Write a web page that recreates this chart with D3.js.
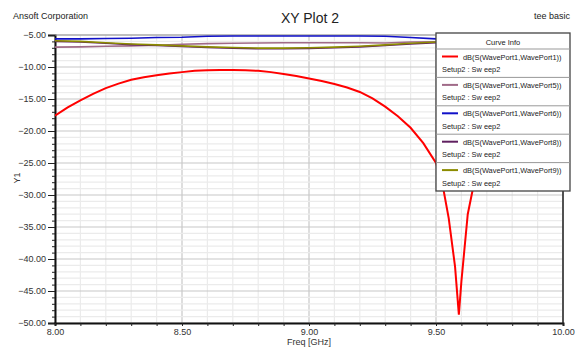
<!DOCTYPE html>
<html><head><meta charset="utf-8">
<script src="https://cdn.jsdelivr.net/npm/d3@7/dist/d3.min.js"></script>
<style>body{margin:0;background:#fff}svg{display:block;font-family:"Liberation Sans",Arial,sans-serif}</style>
</head><body><svg id="c" width="577" height="348"></svg>
<script>
// Data
const freqS11 = [8.00,8.05,8.10,8.15,8.20,8.25,8.30,8.35,8.40,8.45,8.50,8.55,8.60,8.65,8.70,8.75,8.80,8.85,8.90,8.95,9.00,9.05,9.10,9.15,9.20,9.25,9.30,9.35,9.40,9.45,9.50,9.525,9.55,9.575,9.59,9.60,9.625,9.65,9.675,9.70,9.75,9.80,9.85,9.90,9.95,10.00];
const s11 = [-17.6,-16.3,-15.2,-14.2,-13.3,-12.6,-12.0,-11.6,-11.3,-11.0,-10.8,-10.6,-10.5,-10.45,-10.45,-10.5,-10.6,-10.8,-11.1,-11.4,-11.8,-12.2,-12.65,-13.2,-13.9,-14.9,-16.2,-17.7,-19.5,-21.9,-25.0,-28.2,-33.6,-41.2,-48.7,-43.5,-33.0,-28.1,-25.0,-22.5,-19.5,-17.5,-16.0,-15.0,-14.2,-13.5];
const freqTop = [8.0,8.1,8.2,8.3,8.4,8.5,8.6,8.7,8.8,8.9,9.0,9.1,9.2,9.3,9.4,9.5,9.6,9.7,9.8,9.9,10.0];
const s15 = [-6.9,-6.85,-6.75,-6.7,-6.6,-6.45,-6.35,-6.3,-6.25,-6.2,-6.2,-6.2,-6.2,-6.25,-6.1,-6.05,-6.0,-6.0,-6.0,-6.0,-6.0];
const s16 = [-5.6,-5.6,-5.55,-5.5,-5.4,-5.35,-5.2,-5.15,-5.15,-5.15,-5.15,-5.15,-5.15,-5.2,-5.4,-5.6,-5.6,-5.6,-5.6,-5.6,-5.6];
const s18 = [-6.0,-6.1,-6.3,-6.5,-6.65,-6.8,-6.95,-7.05,-7.15,-7.15,-7.1,-7.0,-6.85,-6.65,-6.4,-6.2,-6.1,-6.0,-6.0,-5.95,-5.95];
const s19 = [-5.9,-6.0,-6.2,-6.4,-6.55,-6.7,-6.85,-6.95,-7.05,-7.05,-7.0,-6.9,-6.75,-6.55,-6.3,-6.1,-6.0,-5.9,-5.9,-5.85,-5.85];
const seriesNames = ["dB(S(WavePort1,WavePort1))","dB(S(WavePort1,WavePort5))","dB(S(WavePort1,WavePort6))","dB(S(WavePort1,WavePort8))","dB(S(WavePort1,WavePort9))"];
const seriesColors = ["#ff0000","#a06a88","#1010c8","#602060","#8c8c00"];
const sweepLabel = "Setup2 : Sw eep2";
const xTicks = [8.0,8.5,9.0,9.5,10.0];
const yTicks = [-5,-10,-15,-20,-25,-30,-35,-40,-45,-50];

const svg = d3.select("#c");
const L=55,R=563,T=35,B=323;
const x = d3.scaleLinear().domain([8,10]).range([L,R]);
const y = d3.scaleLinear().domain([-50,-5]).range([B,T]);

// grid
const g = svg.append("g");
d3.range(8,10.0001,0.1).forEach(v=>{
  const major = Math.abs(v*2-Math.round(v*2))<1e-6;
  g.append("line").attr("x1",x(v)).attr("x2",x(v)).attr("y1",T).attr("y2",B)
   .attr("stroke",major?"#c8c8c8":"#ebebeb").attr("stroke-width",1.2);
});
d3.range(-50,-4.999,1).forEach(v=>{
  const major = v%5===0;
  g.append("line").attr("x1",L).attr("x2",R).attr("y1",y(v)).attr("y2",y(v))
   .attr("stroke",major?"#c8c8c8":"#ebebeb").attr("stroke-width",1.2);
});

// axes
const yAxis = d3.axisLeft(y).tickValues(yTicks).tickFormat(d3.format(".2f")).tickSize(7).tickPadding(2);
const ya = svg.append("g").attr("transform",`translate(${L},0)`).call(yAxis);
const yMinor = d3.axisLeft(y).tickValues(d3.range(-50,-4.999,1)).tickFormat("").tickSize(3);
svg.append("g").attr("transform",`translate(${L},0)`).call(yMinor).select(".domain").remove();
const xAxis = d3.axisBottom(x).tickValues(xTicks).tickFormat(d3.format(".2f")).tickSize(3).tickPadding(3);
const xa = svg.append("g").attr("transform",`translate(0,${B})`).call(xAxis);
const xMinor = d3.axisBottom(x).tickValues(d3.range(8,10.0001,0.1)).tickFormat("").tickSize(3);
svg.append("g").attr("transform",`translate(0,${B})`).call(xMinor).select(".domain").remove();
svg.selectAll(".tick text").attr("font-size",9).attr("fill","#333").attr("font-family","Liberation Sans, Arial, sans-serif");
svg.selectAll(".tick line").attr("stroke","#222");
ya.select(".domain").attr("stroke","#111").attr("stroke-width",2);
xa.select(".domain").attr("stroke","#111").attr("stroke-width",2);
// top & right border
svg.append("line").attr("x1",L).attr("x2",R).attr("y1",T).attr("y2",T).attr("stroke","#999").attr("stroke-width",1);
svg.append("line").attr("x1",R).attr("x2",R).attr("y1",T).attr("y2",B+1).attr("stroke","#222").attr("stroke-width",1.5);

// curves
const line = d3.line().x(d=>x(d[0])).y(d=>y(d[1]));
const clip = svg.append("clipPath").attr("id","pc").append("rect").attr("x",L).attr("y",T).attr("width",R-L).attr("height",B-T);
const cg = svg.append("g").attr("clip-path","url(#pc)");
const tops = [[s15,1],[s18,3],[s19,4],[s16,2]];
tops.forEach(([vals,i])=>{
  cg.append("path").datum(freqTop.map((f,k)=>[f,vals[k]])).attr("d",line)
    .attr("fill","none").attr("stroke",seriesColors[i]).attr("stroke-width",1.6);
});
cg.append("path").datum(freqS11.map((f,k)=>[f,s11[k]])).attr("d",line)
  .attr("fill","none").attr("stroke",seriesColors[0]).attr("stroke-width",2);

// texts
svg.append("text").attr("x",310).attr("y",23).attr("text-anchor","middle").attr("font-size",14).attr("fill","#222").text("XY Plot 2");
svg.append("text").attr("x",13).attr("y",19).attr("font-size",9).attr("fill","#222").text("Ansoft Corporation");
svg.append("text").attr("x",570).attr("y",19).attr("text-anchor","end").attr("font-size",9).attr("fill","#222").text("tee basic");
svg.append("text").attr("x",309).attr("y",345).attr("text-anchor","middle").attr("font-size",9).attr("fill","#333").text("Freq [GHz]");
svg.append("text").attr("transform","translate(20,178) rotate(-90)").attr("text-anchor","middle").attr("font-size",9).attr("fill","#333").text("Y1");

// legend
const lx=436, ly=33, lw=134, lh=158, hh=16, eh=(lh-hh)/5;
const lg = svg.append("g");
lg.append("rect").attr("x",lx).attr("y",ly).attr("width",lw).attr("height",lh).attr("fill","#fff").attr("stroke","#444").attr("stroke-width",1.3);
lg.append("text").attr("x",lx+lw/2).attr("y",ly+11.5).attr("text-anchor","middle").attr("font-size",7.5).attr("fill","#222").text("Curve Info");
seriesNames.forEach((n,i)=>{
  const ey = ly+hh+i*eh;
  lg.append("line").attr("x1",lx).attr("x2",lx+lw).attr("y1",ey).attr("y2",ey).attr("stroke","#999").attr("stroke-width",1);
  lg.append("line").attr("x1",lx+6).attr("x2",lx+22).attr("y1",ey+7.5).attr("y2",ey+7.5).attr("stroke",seriesColors[i]).attr("stroke-width",2);
  lg.append("text").attr("x",lx+27).attr("y",ey+10.5).attr("font-size",7.4).attr("fill","#222").text(n);
  lg.append("text").attr("x",lx+6).attr("y",ey+23).attr("font-size",7.4).attr("fill","#222").text(sweepLabel);
});
</script></body></html>
